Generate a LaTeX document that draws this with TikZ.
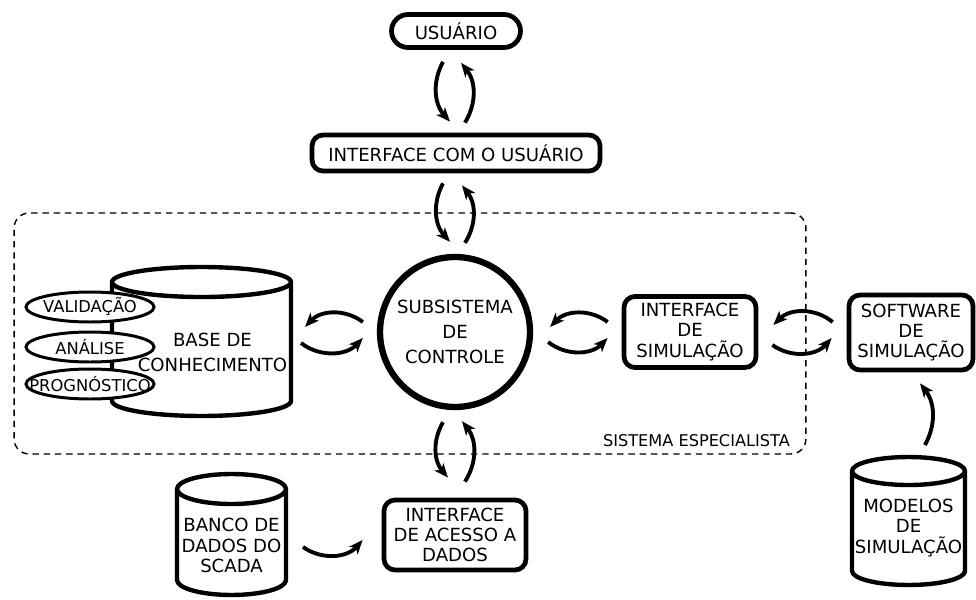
\documentclass[tikz,border=0pt]{standalone}
\usepackage{fontspec}
\setmainfont{DejaVu Sans}
\usepackage{tikz}
\usetikzlibrary{arrows.meta}
\usetikzlibrary{shapes.geometric}
\tikzset{
	box/.style={draw, rectangle, rounded corners=0.22cm, line width=2.7pt, align=center, inner sep=2pt},
	db/.style={rectangle, inner sep=0pt, outer sep=0pt},
	dbline/.style={line width=2.5pt, line join=round},
	tag/.style={draw, ellipse, fill=white, line width=1.7pt, minimum width=2.56cm, minimum height=0.6cm, inner sep=0pt, font=\fontsize{9.3}{10}\selectfont},
	edge/.style={-{Stealth[length=8pt, width=6.5pt, inset=2.2pt]}, line width=2.2pt, bend right=38},
	frame/.style={draw, dashed, dash pattern=on 3.6pt off 2.8pt, line width=0.8pt, rounded corners=0.3cm}
}
% cylinder outline round a db node: node, x radius, y radius
\newcommand{\dbdraw}[3]{%
	\draw[dbline] ([yshift=-#3]#1.north west) -- ([yshift=#3]#1.south west)
		arc[start angle=180, end angle=360, x radius=#2, y radius=#3]
		-- ([yshift=-#3]#1.north east)
		arc[start angle=0, end angle=180, x radius=#2, y radius=#3] -- cycle
		([yshift=-#3]#1.north west) arc[start angle=180, end angle=360, x radius=#2, y radius=#3];}
\begin{document}
\begin{tikzpicture}[x=0.02cm, y=0.02cm, font=\fontsize{10.3}{11.6}\selectfont]
\useasboundingbox (0,0) rectangle (976,599);
\node[frame, minimum width=15.84cm, minimum height=4.82cm] (sistema) at (410,265.5) {};
\node[anchor=east, font=\fontsize{9.2}{11}\selectfont] (sistlbl) at (796,158) {SISTEMA ESPECIALISTA};

\node[box, rounded corners=0.33cm, minimum width=2.58cm, minimum height=0.66cm] (usuario) at (456,568) {USUÁRIO};
\node[box, minimum width=5.76cm, minimum height=0.72cm] (iface) at (456,446) {INTERFACE COM O USUÁRIO};
\node[draw, circle, line width=3.6pt, minimum size=3.0cm, align=center] (controle) at (455,267) {SUBSISTEMA\\[2.5pt]DE\\[2.5pt]CONTROLE};
\node[box, minimum width=2.64cm, minimum height=1.42cm] (simif) at (690,267) {INTERFACE\\DE\\SIMULAÇÃO};
\node[box, minimum width=2.48cm, minimum height=1.5cm] (software) at (911,266.5) {SOFTWARE\\DE\\SIMULAÇÃO};
\node[box, minimum width=2.84cm, minimum height=1.4cm] (acesso) at (455,64) {INTERFACE\\DE ACESSO A\\DADOS};

\node[db, minimum width=3.58cm, minimum height=2.98cm,
	label={[align=center, xshift=0.22cm, yshift=-0.22cm]center:BASE DE\\[3pt]CONHECIMENTO}] (base) at (201.5,257.5) {};
\dbdraw{base}{1.79cm}{0.3cm}
\node[tag] (valid) at (90,292) {\makebox[0pt]{VALIDAÇÃO}};
\node[tag] (analise) at (90,252) {\makebox[0pt]{ANÁLISE}};
\node[tag] (progn) at (90,215) {\makebox[0pt]{PROGNÓSTICO}};

\node[db, minimum width=2.18cm, minimum height=2.42cm,
	label={[align=center, yshift=-0.22cm]center:BANCO DE\\DADOS DO\\SCADA}] (banco) at (231.5,64.5) {};
\dbdraw{banco}{1.09cm}{0.3cm}
\node[db, minimum width=2.26cm, minimum height=2.56cm,
	label={[align=center, yshift=-0.14cm]center:MODELOS\\DE\\SIMULAÇÃO}] (modelos) at (908.5,78) {};
\dbdraw{modelos}{1.13cm}{0.28cm}

% usuario <-> interface
\draw[edge, bend right=35] ([shift={(-13,-12)}]usuario.south) to ([shift={(-6,11)}]iface.north);
\draw[edge, bend right=35] ([shift={(9,10)}]iface.north) to ([shift={(5,-13)}]usuario.south);
% interface <-> controle
\draw[edge, bend right=35] ([shift={(-13,-10)}]iface.south) to ([shift={(-5,12)}]controle.north);
\draw[edge, bend right=35] ([shift={(10,11)}]controle.north) to ([shift={(6,-12)}]iface.south);
% controle <-> acesso
\draw[edge, bend right=35] ([shift={(-12,-12)}]controle.south) to ([shift={(-7,20)}]acesso.north);
\draw[edge, bend right=35] ([shift={(10,16)}]acesso.north) to ([shift={(7,-11)}]controle.south);
% controle <-> base
\draw[edge, bend right=42] ([shift={(-14,10)}]controle.west) to ([shift={(14,14.5)}]base.east);
\draw[edge, bend right=42] ([shift={(10,-1.5)}]base.east) to ([shift={(-14,-6)}]controle.west);
% controle <-> simulacao
\draw[edge, bend right=42] ([shift={(-14,10)}]simif.west) to ([shift={(17,5)}]controle.east);
\draw[edge, bend right=42] ([shift={(15,-10)}]controle.east) to ([shift={(-14,-6)}]simif.west);
\draw[edge, bend right=42] ([shift={(-14,10.5)}]software.west) to ([shift={(15,7)}]simif.east);
\draw[edge, bend right=42] ([shift={(14,-13)}]simif.east) to ([shift={(-15,-5.5)}]software.west);
% bancos de dados
\draw[edge, bend right=42] ([shift={(17,-12.5)}]banco.east) to ([shift={(-19,-5)}]acesso.west);
\draw[edge, bend right=33] ([shift={(16.5,12)}]modelos.north) to ([shift={(9,-11)}]software.south);
\end{tikzpicture}
\end{document}
